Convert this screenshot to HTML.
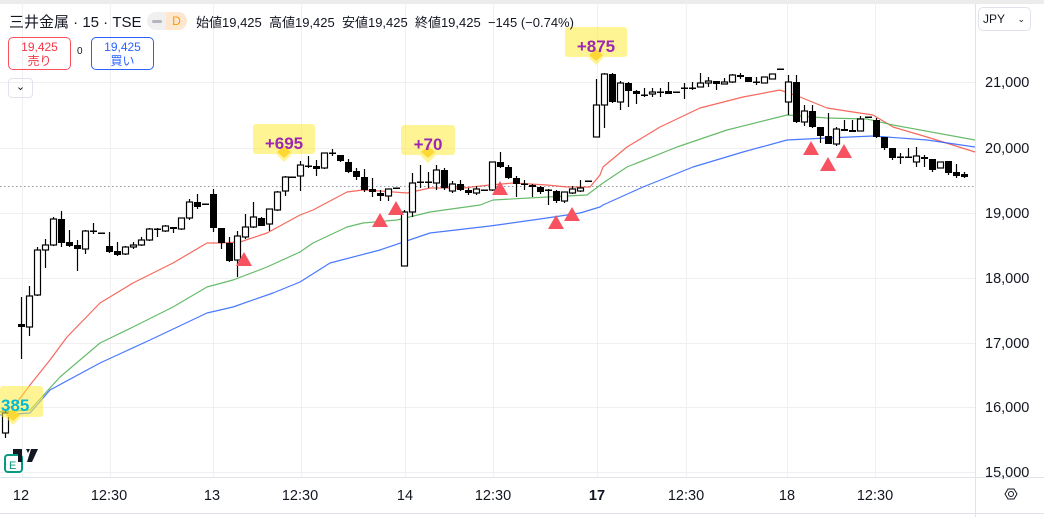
<!DOCTYPE html>
<html><head><meta charset="utf-8"><style>
body{margin:0;width:1044px;height:517px;overflow:hidden;background:#fff;font-family:"Liberation Sans","Noto Sans CJK JP",sans-serif;position:relative}
.t{position:absolute;white-space:nowrap}
</style></head><body>
<svg id="s" width="1044" height="517" style="position:absolute;left:0;top:0">
<rect x="0" y="0" width="1044" height="4" fill="#ececec"/>
<g stroke="#f0f0f0" stroke-width="1">
<line x1="0" y1="82.5" x2="975" y2="82.5"/><line x1="0" y1="148.5" x2="975" y2="148.5"/><line x1="0" y1="213.5" x2="975" y2="213.5"/><line x1="0" y1="278.5" x2="975" y2="278.5"/><line x1="0" y1="343.5" x2="975" y2="343.5"/><line x1="0" y1="407.5" x2="975" y2="407.5"/><line x1="0" y1="472.5" x2="975" y2="472.5"/>
<line x1="22.5" y1="0" x2="22.5" y2="477"/><line x1="110.5" y1="0" x2="110.5" y2="477"/><line x1="213.5" y1="0" x2="213.5" y2="477"/><line x1="301.5" y1="0" x2="301.5" y2="477"/><line x1="405.5" y1="0" x2="405.5" y2="477"/><line x1="493.5" y1="0" x2="493.5" y2="477"/><line x1="597.5" y1="0" x2="597.5" y2="477"/><line x1="686.5" y1="0" x2="686.5" y2="477"/><line x1="787.5" y1="0" x2="787.5" y2="477"/><line x1="875.5" y1="0" x2="875.5" y2="477"/>
</g>
<line x1="975.5" y1="4" x2="975.5" y2="517" stroke="#e0e3eb"/>
<line x1="0" y1="477.5" x2="1044" y2="477.5" stroke="#e0e3eb"/>
<line x1="0" y1="513.5" x2="1044" y2="513.5" stroke="#e0e3eb"/>
<line x1="0" y1="186.5" x2="975" y2="186.5" stroke="#9598a1" stroke-dasharray="1.5 2.5"/>
<g fill="none" stroke-width="1.2" stroke-linejoin="round">
<polyline stroke="#f44336" stroke-opacity=".8" points="0,412 15,405 30,385 50,360 67,337 100,303 133,283 173,263 207,243 220,243 240,242 267,233 300,215 313,210 347,192 363,190 380,191 407,193 430,188 463,188 490,185 513,183 547,185 567,187 590,187 600,175 603,167 627,147 660,127 700,108 743,97 780,90 800,97 827,108 853,112 873,115 893,127 927,137 975,152"/>
<polyline stroke="#4caf50" stroke-opacity=".85" points="0,412 30,410 60,377 100,343 133,327 173,307 207,287 233,280 267,267 300,252 313,243 347,227 363,223 397,220 430,212 480,205 493,200 547,197 587,195 603,183 627,167 677,147 727,130 787,115 827,118 867,119 893,125 975,140"/>
<polyline stroke="#2962ff" stroke-opacity=".85" points="0,415 30,413 50,390 100,363 150,340 207,313 233,307 273,293 300,282 330,263 380,250 430,233 490,226 547,218 580,213 600,207 603,205 643,187 693,167 743,152 787,140 827,138 873,136 927,140 975,147"/>
</g>
<g id="c"></g>
<g fill="#f7525f">
<polygon points="244,252 236,266 252,266"/><polygon points="380,213 372,227 388,227"/><polygon points="396,201 388,215 404,215"/><polygon points="500,181 492,195 508,195"/><polygon points="556,215 548,229 564,229"/><polygon points="572,207 564,221 580,221"/><polygon points="811,141 803,155 819,155"/><polygon points="828,157 820,171 836,171"/><polygon points="844,144 836,158 852,158"/>
</g>
<g fill="#ffeb3b" fill-opacity=".55">
<rect x="253" y="124" width="62" height="30" rx="3"/><polygon points="276,154 292,154 284,162"/>
<rect x="401" y="125" width="54" height="30" rx="3"/><polygon points="420,155 436,155 428,163"/>
<rect x="565" y="27" width="62" height="30" rx="3"/><polygon points="588,57 604,57 596,65"/>
<rect x="0" y="386" width="43" height="31" rx="3"/><polygon points="5,417 21,417 13,425"/>
</g>
<g fill="#fdd835"><polygon points="284,146 291,152 284,158 277,152"/><polygon points="428,146 435,152 428,158 421,152"/><polygon points="596,49 603,55 596,61 589,55"/><polygon points="13,409 20,415 13,421 6,415"/></g>
<g font-family="Liberation Sans,sans-serif" font-size="17" font-weight="bold">
<text x="284" y="149" text-anchor="middle" fill="#9c27b0">+695</text>
<text x="428" y="150" text-anchor="middle" fill="#9c27b0">+70</text>
<text x="596" y="52" text-anchor="middle" fill="#9c27b0">+875</text>
<text x="1" y="411" fill="#00bcd4">385</text>
</g>
<rect x="5" y="455" width="17" height="17" rx="3" fill="none" stroke="#089981" stroke-width="2"/>
<text x="9" y="469" font-size="11" fill="#089981" font-family="Liberation Sans,sans-serif">E</text>
<path d="M13 449h9v13h-4v-8h-5z M26 449h4l-2 4z M31 449h7l-6 13h-5z" fill="#131722"/>
<circle cx="1011" cy="494" r="2.5" fill="none" stroke="#131722" stroke-width="1"/>
<polygon points="1005,494 1008,489 1014,489 1017,494 1014,499 1008,499" fill="none" stroke="#131722" stroke-width="1"/>
<g font-family="Liberation Sans,sans-serif" font-size="14.5" fill="#131722">
<text x="985" y="87">21,000</text><text x="985" y="153">20,000</text><text x="985" y="218">19,000</text><text x="985" y="283">18,000</text><text x="985" y="348">17,000</text><text x="985" y="412">16,000</text><text x="985" y="477">15,000</text>
<g text-anchor="middle"><text x="21" y="500">12</text><text x="109" y="500">12:30</text><text x="212" y="500">13</text><text x="300" y="500">12:30</text><text x="405" y="500">14</text><text x="493" y="500">12:30</text><text x="597" y="500" font-weight="bold">17</text><text x="686" y="500">12:30</text><text x="787" y="500">18</text><text x="875" y="500">12:30</text></g>
</g>
</svg>
<div class="t" style="left:978px;top:7px;width:53px;height:24px;border:1px solid #e0e3eb;border-radius:5px;box-sizing:border-box;font-size:12px;line-height:22px;padding-left:4px;color:#131722">JPY<span style="position:absolute;right:5px;font-size:9px">⌄</span></div>
<div class="t" style="left:9px;top:11px;font-size:15px;color:#131722">三井金属 · 15 · TSE</div>
<div class="t" style="left:147px;top:12px;width:40px;height:18px;border-radius:9px;background:#f0f0f0"></div>
<div class="t" style="left:166px;top:12px;width:21px;height:18px;border-radius:0 9px 9px 0;background:#fde7cf;color:#ff9800;font-size:12px;text-align:center;line-height:18px">D</div>
<div class="t" style="left:152px;top:20px;width:10px;height:3px;border-radius:2px;background:#b2b5be"></div>
<div class="t" style="left:196px;top:12px;font-size:13px;color:#131722">始値19,425&nbsp; 高値19,425&nbsp; 安値19,425&nbsp; 終値19,425&nbsp; −145 (−0.74%)</div>
<div class="t" style="left:8px;top:37px;width:63px;height:33px;border:1px solid #f7525f;border-radius:5px;box-sizing:border-box;text-align:center;font-size:12px;line-height:14px;color:#f23645;padding-top:2px">19,425<br>売り</div>
<div class="t" style="left:77px;top:46px;font-size:10px;color:#131722">0</div>
<div class="t" style="left:91px;top:37px;width:63px;height:33px;border:1px solid #2962ff;border-radius:5px;box-sizing:border-box;text-align:center;font-size:12px;line-height:14px;color:#2962ff;padding-top:2px">19,425<br>買い</div>
<div class="t" style="left:8px;top:78px;width:25px;height:20px;border:1px solid #e0e3eb;border-radius:4px;box-sizing:border-box;text-align:center;font-size:11px;line-height:16px;color:#131722">⌄</div>
<script>
var d=[
[5,433,413,411,438],[21,324,327,297,359],[29,327,296,286,336],[37,295,250,247,296],[45,250,245,239,268],[53,245,219,217,246],[61,219,243,211,247],[69,242,246,230,247],[77,245,249,240,271],[85,249,231,230,254],[93,231,232,223,234],[101,233,233,233,233],[109,246,252,232,253],[117,251,255,242,256],[125,254,247,246,255],[133,247,245,242,249],[141,245,240,237,246],[149,240,229,228,241],[157,230,229,228,237],[165,231,226,225,232],[173,227,229,227,233],[181,229,218,218,230],[189,218,202,199,220],[197,202,207,194,209],[205,204,204,204,204],[213,194,228,189,232],[221,228,243,228,249],[229,243,261,237,262],[237,260,236,231,277],[245,237,227,214,239],[253,227,217,202,228],[261,218,226,217,226],[269,224,209,209,231],[277,210,192,191,211],[285,191,177,176,196],
[292,177,177,177,177],[300,176,165,161,191],[308,166,166,156,168],[316,166,169,160,176],[324,168,153,153,169],[332,153,153,149,156],[340,155,161,155,162],[348,162,172,159,173],[356,171,177,168,180],[364,177,190,169,192],[372,189,192,178,197],[380,193,196,190,201],[388,196,189,189,201],[396,188,188,188,188],[404,266,212,210,266],[412,212,183,173,217],[420,182,182,165,188],[428,182,182,172,188],[436,183,170,165,190],[444,170,188,168,190],[452,191,184,181,193],[460,184,190,180,191],[468,190,193,188,195],[476,193,189,186,195],[484,190,190,190,190],[492,190,162,162,191],[500,162,167,152,168],[508,167,178,165,179],[516,178,184,176,197],[524,184,184,180,190],[532,185,187,184,197],[540,187,192,186,194],[548,190,190,189,205],[556,191,201,190,203],[564,201,192,192,203],[572,193,189,186,194],[580,191,188,180,192],[588,181,181,181,181],
[596,137,105,79,137],[604,105,74,73,128],[612,74,102,73,103],[620,102,83,81,110],[628,83,91,82,107],[636,91,94,90,104],[644,95,95,88,97],[652,94,92,88,97],[660,92,92,88,97],[668,91,94,82,94],[676,92,92,92,92],[684,88,88,83,99],[692,88,88,82,90],[700,87,83,73,87],[708,83,81,77,87],[716,81,84,81,90],[724,84,82,78,84],[732,82,75,74,83],[740,75,77,73,79],[748,77,82,77,82],[756,82,82,77,85],[764,83,77,77,83],[772,79,74,74,79],[780,69,69,69,69],[788,102,82,75,115],[796,82,122,75,123],[804,122,111,105,126],[812,111,127,105,128],[820,127,136,127,143],[828,136,144,113,144],[836,144,129,127,146],[844,129,131,120,131],[852,130,132,120,132],[860,131,119,116,131],[868,117,117,117,117],[876,120,137,118,138],[884,137,148,137,150],[892,148,158,148,160],[900,157,158,153,164],[908,157,158,148,158],[916,162,156,147,167],[924,157,159,155,167],[932,159,170,159,172],[940,168,162,162,168],[948,161,173,161,175],[956,172,176,164,178],[964,174,177,172,178]
];
var h='';
d.forEach(function(c){var x=c[0],o=c[1],cl=c[2],hi=c[3],lo=c[4];var up=cl<o;var t=Math.min(o,cl),b=Math.max(o,cl);
h+='<line x1="'+(x+0.5)+'" y1="'+hi+'" x2="'+(x+0.5)+'" y2="'+lo+'" stroke="#000" stroke-width="1.2"/>';
if(b-t<2){h+='<rect x="'+(x-3)+'" y="'+(t-0.5)+'" width="7" height="1.5" fill="#000"/>';}
else if(up){h+='<rect x="'+(x-2.5)+'" y="'+t+'" width="6" height="'+(b-t)+'" fill="#fff" stroke="#000" stroke-width="1.2"/>';}
else{h+='<rect x="'+(x-3)+'" y="'+t+'" width="7" height="'+(b-t)+'" fill="#000"/>';}});
document.getElementById('c').innerHTML=h;
</script>
</body></html>
